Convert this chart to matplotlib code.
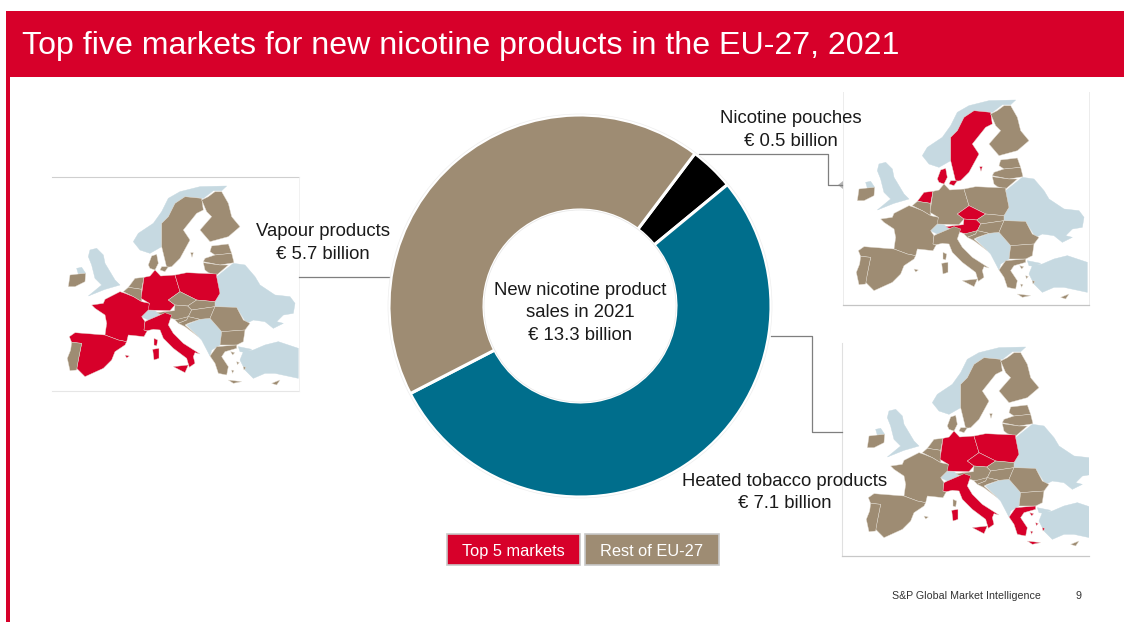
import matplotlib
matplotlib.use('Agg')
import matplotlib.pyplot as plt
from matplotlib.patches import Polygon, Rectangle, Circle

plt.rcParams['font.family'] = ['Liberation Sans', 'DejaVu Sans']

RED = '#d7002a'
TAN = '#9e8c73'
TEAL = '#006e8c'
BLUE = '#c6d9e1'

segment_names = ['Nicotine pouches', 'Heated tobacco products', 'Vapour products']
segment_values = [0.5, 7.1, 5.7]
segment_colors = ['black', TEAL, TAN]
total_sales = 13.3

vapour_top5 = ['Germany', 'Poland', 'France', 'Spain', 'Italy']
pouches_top5 = ['Sweden', 'Denmark', 'Netherlands', 'Czechia', 'Austria']
heated_top5 = ['Germany', 'Poland', 'Czechia', 'Italy', 'Greece']

# rough outlines, outside the EU-27 is always light blue
non_eu = {
    'Norway': [(280,215),(295,190),(340,160),(365,125),(385,85),(420,65),(480,50),(560,48),(545,62),(520,62),(490,85),(435,80),(405,100),(385,140),(365,160),(365,230),(330,250),(300,240)],
    'UK': [(150,240),(170,235),(190,255),(195,280),(225,330),(240,345),(195,358),(145,378),(185,345),(165,325),(155,285),(145,260)],
    'NI': [(110,295),(125,292),(137,310),(115,312)],
    'Belarus Ukraine': [(530,320),(580,280),(615,285),(645,320),(660,345),(705,375),(750,380),(765,400),(760,430),(730,435),(710,455),(730,460),(700,475),(675,455),(640,450),(620,460),(590,412),(525,410),(525,395),(540,370)],
    'Switzerland': [(305,440),(325,420),(345,422),(360,435),(325,450)],
    'Balkans': [(440,465),(480,448),(510,445),(545,485),(540,525),(515,540),(510,558),(485,510)],
    'Turkey': [(610,545),(640,540),(675,525),(715,515),(775,535),(775,625),(705,610),(675,610),(640,625),(615,600),(600,570)],
    'Thrace': [(595,530),(635,538),(615,547),(600,545)],
}
countries = {
    'Sweden': [[(485,85),(435,80),(405,100),(385,140),(365,160),(365,230),(380,292),(395,290),(420,265),(450,210),(430,180),(470,130),(490,120)],
               [(452,248),(460,248),(456,262)]],
    'Finland': [[(525,65),(545,65),(565,100),(575,140),(600,170),(565,200),(510,215),(480,180),(515,140),(500,125),(485,90),(505,80)]],
    'Denmark': [[(325,285),(335,258),(350,253),(355,280),(345,300),(330,295)],
                [(365,290),(385,290),(375,305),(360,300)]],
    'Estonia': [[(515,228),(565,222),(575,250),(525,255),(510,245)]],
    'Latvia': [[(495,265),(525,255),(575,250),(582,278),(540,285),(490,275)]],
    'Lithuania': [[(490,278),(540,285),(565,285),(530,315),(505,308),(495,300)]],
    'Ireland': [[(85,350),(90,315),(115,312),(137,310),(135,335),(105,350)]],
    'Netherlands': [[(265,352),(285,325),(312,322),(305,358)]],
    'Belgium': [[(250,365),(265,352),(305,358),(305,395),(280,380)]],
    'Germany': [[(330,318),(312,322),(303,385),(328,400),(322,420),(390,422),(405,405),(385,390),(420,365),(405,315),(362,318),(345,300)]],
    'Poland': [[(405,315),(440,308),(530,312),(530,320),(540,370),(525,395),(470,390),(460,385),(420,365)]],
    'Czechia': [[(385,390),(420,365),(460,385),(470,390),(443,408),(405,405)]],
    'Slovakia': [[(470,390),(525,395),(525,410),(455,420),(443,408)]],
    'Austria': [[(350,428),(375,425),(403,422),(405,405),(443,408),(455,420),(445,440),(410,450),(370,438)]],
    'Hungary': [[(455,420),(525,410),(510,445),(480,448),(445,440)]],
    'Slovenia': [[(405,450),(445,440),(440,450),(415,460)]],
    'Croatia': [[(415,460),(440,450),(445,440),(480,448),(445,460),(435,465),(475,500),(435,470)]],
    'Romania': [[(525,410),(590,412),(610,450),(630,460),(615,480),(545,485),(510,445)]],
    'Bulgaria': [[(545,485),(615,480),(610,515),(590,525),(540,525)]],
    'Greece': [[(510,558),(530,530),(590,525),(590,535),(555,545),(545,560),(565,590),(560,615),(535,610),(525,580)],
               [(565,630),(605,635),(580,640)], [(572,545),(584,548),(578,555)], [(590,575),(598,578),(592,584)],
               [(610,590),(618,592),(612,600)], [(575,600),(582,602),(577,610)]],
    'Cyprus': [[(695,640),(720,630),(710,645)]],
    'France': [[(155,405),(190,400),(195,388),(240,365),(255,370),(280,380),(305,395),(328,400),(325,420),(305,440),(315,455),(312,480),(322,482),(312,500),(265,495),(260,515),(235,510),(195,495),(200,460),(195,435),(165,415)],
               [(342,505),(353,510),(350,528),(342,525)]],
    'Spain': [[(88,500),(105,488),(195,495),(235,510),(260,515),(255,525),(225,545),(215,570),(190,595),(135,620),(110,595),(115,570),(125,520),(95,517)],
              [(255,555),(268,558),(260,564)]],
    'Portugal': [[(95,517),(125,520),(115,570),(110,600),(90,602),(82,565),(92,540)]],
    'Italy': [[(325,450),(360,435),(375,428),(395,435),(390,450),(385,465),(400,490),(430,520),(480,552),(465,548),(460,560),(465,580),(448,592),(440,565),(400,535),(370,505),(360,480),(340,478),(322,482),(312,480),(315,455)],
              [(400,590),(445,585),(435,608)], [(338,538),(357,535),(357,565),(342,570)]],
}


def draw_map(ax, red_set, ox, oy, clip_left, clip_right, clip_top, clip_bottom):
    clip = Rectangle((clip_left, clip_top), clip_right - clip_left, clip_bottom - clip_top,
                     transform=ax.transData)

    def to_px(pts):
        return [(ox + p[0] / 3, oy + p[1] / 3) for p in pts]

    for name in non_eu:
        p = Polygon(to_px(non_eu[name]), closed=True, fc=BLUE, ec=BLUE, lw=0.3, zorder=2)
        ax.add_patch(p)
        p.set_clip_path(clip)
    for name in countries:
        c = RED if name in red_set else TAN
        for part in countries[name]:
            p = Polygon(to_px(part), closed=True, fc=c, ec='#e4ded4', lw=0.3, zorder=3)
            ax.add_patch(p)
            p.set_clip_path(clip)


fig = plt.figure(figsize=(11.24, 6.25), dpi=100)
ax = fig.add_axes([0, 0, 1, 1])

# donut, y runs downwards so the angles go the other way round
ax.pie(segment_values, colors=segment_colors, center=(580, 306), radius=191,
       startangle=-53, counterclock=True, frame=True,
       wedgeprops=dict(width=95, edgecolor='white', linewidth=2.2))
ax.add_patch(Circle((580, 306), 96, fc='none', ec='#e6e6e6', lw=0.5, zorder=4))
ax.add_patch(Circle((580, 306), 192, fc='none', ec='#eeeeee', lw=0.5, zorder=4))
ax.set_xlim(0, 1124)
ax.set_ylim(625, 0)
ax.set_aspect('auto')
ax.axis('off')

# header band and left rule
ax.add_patch(Rectangle((6, 11), 1118, 66, fc=RED, ec='none'))
ax.add_patch(Rectangle((6, 77), 4, 545, fc=RED, ec='none'))
ax.text(22, 54, 'Top five markets for new nicotine products in the EU-27, 2021',
        color='white', fontsize=23.15, va='baseline', ha='left')

# maps
draw_map(ax, vapour_top5, 40, 170, 52, 299, 177, 391)
draw_map(ax, pouches_top5, 829, 84, 843, 1089, 92, 305)
draw_map(ax, heated_top5, 839, 331, 842, 1089, 343, 556)

ax.plot([52, 299], [177, 177], color='#cfcfcf', lw=0.8)
ax.plot([52, 299], [391, 391], color='#e6e6e6', lw=0.8)
ax.plot([299, 299], [177, 391], color='#efefef', lw=0.6)
ax.plot([843, 843], [92, 305], color='#ececec', lw=0.7)
ax.plot([1089, 1089], [92, 305], color='#ececec', lw=0.7)
ax.plot([843, 1089], [305, 305], color='#c4c4c4', lw=0.9)
ax.plot([842, 842], [343, 556], color='#e0e0e0', lw=0.8)
ax.plot([842, 1089], [556, 556], color='#c8c8c8', lw=0.9)

# leader lines
leader = '#7f7f7f'
ax.plot([299, 389], [277, 277], color=leader, lw=0.9)
ax.plot([699, 828, 828, 842], [154, 154, 185, 185], color=leader, lw=0.9)
ax.add_patch(Polygon([(838, 185), (843, 181), (843, 189)], closed=True, fc='#b5b5b5', ec='none'))
ax.plot([771, 812, 812, 842], [336, 336, 432, 432], color=leader, lw=0.9)

# segment labels
lbl = dict(fontsize=13.3, ha='center', va='baseline', color='#1a1a1a', zorder=6)
ax.text(323, 236, segment_names[2], **lbl)
ax.text(323, 259, '€ %.1f billion' % segment_values[2], **lbl)
ax.text(791, 123, segment_names[0], **lbl)
ax.text(791, 146, '€ %.1f billion' % segment_values[0], **lbl)
ax.text(785, 486, segment_names[1], **lbl)
ax.text(785, 508, '€ %.1f billion' % segment_values[1], **lbl)

ax.text(580, 295, 'New nicotine product', **lbl)
ax.text(580, 317, 'sales in 2021', **lbl)
ax.text(580, 340, '€ %.1f billion' % total_sales, **lbl)

# legend boxes
ax.add_patch(Rectangle((447, 534), 133, 31, fc=RED, ec='#c8c8c8', lw=1.2))
ax.add_patch(Rectangle((585, 534), 134, 31, fc=TAN, ec='#c8c8c8', lw=1.2))
ax.text(513, 556, 'Top 5 markets', color='white', fontsize=11.8, ha='center', va='baseline')
ax.text(652, 556, 'Rest of EU-27', color='white', fontsize=11.8, ha='center', va='baseline')

# footer
ax.text(892, 599, 'S&P Global Market Intelligence', color='#333333', fontsize=7.7, ha='left', va='baseline')
ax.text(1079, 599, '9', color='#333333', fontsize=7.7, ha='center', va='baseline')

fig.savefig('out.png', dpi=100)
